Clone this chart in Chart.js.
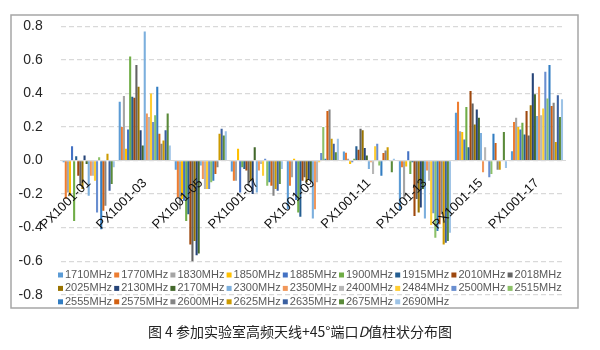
<!DOCTYPE html>
<html>
<head>
<meta charset="utf-8">
<script src="https://cdn.jsdelivr.net/npm/chart.js"></script>
<style>
  body { margin: 0; background: #fff; }
  #wrap { position: relative; width: 600px; height: 350px; }
  #caption {
    position: absolute; left: 0; top: 321px; width: 600px;
    text-align: center; font: 14px "Noto Sans CJK SC", sans-serif; color: #222;
  }
</style>
</head>
<body>
<div id="wrap">
  <canvas id="chart" width="600" height="350"></canvas>
  <div id="caption">图 4 参加实验室高频天线+45°端口<i>D</i>值柱状分布图</div>
</div>
<script>
const categories = ["PX1001-01", "PX1001-03", "PX1001-05", "PX1001-07", "PX1001-09",
  "PX1001-11", "PX1001-13", "PX1001-15", "PX1001-17"];

const yTicks = [-0.8, -0.6, -0.4, -0.2, 0, 0.2, 0.4, 0.6, 0.8];

// one array per frequency, values for each device in categories order
const d1710 = [-0.01, 0.35, -0.055, -0.065, -0.29, 0.054, -0.30, 0.285, 0.055];
const d1770 = [-0.23, 0.20, -0.22, -0.12, -0.15, 0.046, -0.04, 0.35, 0.23];
const d1830 = [-0.19, 0.385, -0.29, -0.12, -0.10, 0.01, -0.23, 0.175, 0.255];
const d1850 = [-0.21, 0.07, -0.23, 0.07, 0.01, -0.02, -0.035, 0.17, 0.20];
const d1885 = [0.085, 0.185, -0.24, -0.19, -0.235, -0.01, 0.055, 0.125, 0.185];
const d1900 = [-0.36, 0.62, -0.36, -0.04, -0.31, 0.01, -0.08, 0.32, 0.225];
const d1915 = [0.025, 0.38, -0.32, -0.05, -0.335, 0.085, -0.01, 0.08, 0.155];
const d2010 = [-0.09, 0.375, -0.50, -0.06, -0.12, 0.065, -0.33, 0.415, 0.295];
const d2018 = [-0.15, 0.57, -0.60, -0.15, -0.10, 0.19, -0.23, 0.34, 0.15];
const d2025 = [-0.17, 0.44, -0.48, -0.12, -0.13, 0.18, -0.31, 0.215, 0.33];
const d2130 = [0.03, 0.18, -0.565, -0.20, -0.11, 0.075, -0.28, 0.305, 0.52];
const d2170 = [-0.02, 0.09, -0.555, 0.08, -0.12, 0.03, -0.17, 0.255, 0.395];
const d2300 = [-0.21, 0.77, -0.03, -0.19, -0.345, -0.05, -0.345, 0.165, 0.265];
const d2350 = [-0.09, 0.28, -0.11, -0.06, -0.29, -0.01, -0.06, -0.07, 0.44];
const d2400 = [-0.09, 0.26, -0.17, -0.02, -0.13, -0.08, -0.12, 0.08, 0.27];
const d2484 = [-0.12, 0.40, -0.17, -0.09, -0.01, 0.085, -0.385, 0.0, 0.31];
const d2500 = [-0.31, 0.23, -0.17, 0.01, 0.045, 0.10, -0.315, -0.10, 0.53];
const d2515 = [0.02, 0.27, -0.13, -0.15, 0.20, -0.03, -0.46, -0.08, 0.37];
const d2555 = [-0.41, 0.44, -0.12, -0.13, 0.01, -0.09, -0.42, 0.16, 0.57];
const d2575 = [-0.30, 0.16, -0.08, -0.15, 0.295, 0.045, -0.38, 0.105, 0.325];
const d2600 = [-0.27, 0.10, -0.04, -0.21, 0.305, 0.06, -0.32, -0.055, 0.345];
const d2625 = [0.04, 0.12, 0.16, -0.17, 0.13, 0.08, -0.50, -0.055, 0.11];
const d2635 = [-0.18, 0.18, 0.19, -0.18, 0.10, 0.0, -0.49, 0.0, 0.39];
const d2675 = [-0.14, 0.28, 0.15, -0.14, 0.05, -0.07, -0.48, 0.17, 0.26];
const d2690 = [-0.04, 0.09, 0.175, -0.05, 0.13, 0.01, -0.43, -0.045, 0.365];

const seriesNames = ["1710MHz", "1770MHz", "1830MHz", "1850MHz", "1885MHz", "1900MHz",
  "1915MHz", "2010MHz", "2018MHz", "2025MHz", "2130MHz", "2170MHz", "2300MHz",
  "2350MHz", "2400MHz", "2484MHz", "2500MHz", "2515MHz", "2555MHz", "2575MHz",
  "2600MHz", "2625MHz", "2635MHz", "2675MHz", "2690MHz"];

const seriesData = [d1710, d1770, d1830, d1850, d1885, d1900, d1915, d2010, d2018,
  d2025, d2130, d2170, d2300, d2350, d2400, d2484, d2500, d2515, d2555, d2575,
  d2600, d2625, d2635, d2675, d2690];

const colors = ["#5B9BD5", "#ED7D31", "#A5A5A5", "#FFC000", "#4472C4", "#70AD47",
  "#255E91", "#9E480E", "#636363", "#997300", "#264478", "#43682B", "#7CAFDD",
  "#F1975A", "#B7B7B7", "#FFCD33", "#698ED0", "#8CC168", "#327DC2", "#D26012",
  "#848484", "#CC9A00", "#3A5FA0", "#5A8A39", "#9DC3E6"];

// white page + grey chart frame
const framePlugin = {
  id: "frame",
  beforeDraw(chart) {
    const c = chart.ctx;
    c.save();
    c.fillStyle = "#fff";
    c.fillRect(0, 0, chart.width, chart.height);
    c.strokeStyle = "#A6A6A6";
    c.lineWidth = 1.5;
    c.strokeRect(11, 15, 567, 293);
    c.restore();
  },
};

// excel style legend sitting over the bottom of the plot
const legendPlugin = {
  id: "excelLegend",
  afterDraw(chart) {
    const c = chart.ctx;
    c.save();
    c.font = '11px "Liberation Sans", Arial, sans-serif';
    c.textBaseline = "middle";
    chart.data.datasets.forEach((ds, i) => {
      const x = 58 + (i % 9) * 56.2;
      const y = 275 + Math.floor(i / 9) * 13.4;
      c.fillStyle = ds.backgroundColor;
      c.fillRect(x, y - 2.5, 5, 5);
      c.fillStyle = "#595959";
      c.fillText(ds.label, x + 7, y);
    });
    c.restore();
  },
};

const chart = document.querySelector("#chart").getContext("2d");

new Chart(chart, {
  type: "bar",
  data: {
    labels: categories,
    datasets: seriesNames.map((name, i) => ({
      label: name,
      data: seriesData[i],
      backgroundColor: colors[i],
      borderWidth: 0,
      categoryPercentage: 0.93,
      barPercentage: 1.0,
    })),
  },
  options: {
    responsive: false,
    animation: false,
    layout: {
      padding: { left: 12.7, right: 35, top: 25.7, bottom: 55.3 },
    },
    plugins: {
      legend: { display: false },
      tooltip: { enabled: false },
    },
    scales: {
      x: {
        position: { y: 0 },
        grid: { display: false },
        border: { display: true, color: "#D9D9D9", width: 1, z: 1 },
        ticks: {
          z: 1, // labels over the bars, like excel
          autoSkip: false,
          minRotation: 45,
          maxRotation: 45,
          padding: 7,
          color: "#111",
          font: { family: '"Liberation Sans", Arial, sans-serif', size: 13 },
        },
      },
      y: {
        min: -0.8,
        max: 0.8,
        afterFit: (scale) => {
          scale.width = 48;
        },
        afterBuildTicks: (scale) => {
          scale.ticks = yTicks.map((v) => ({ value: v }));
        },
        ticks: {
          padding: 18,
          color: "#262626",
          font: { family: '"Liberation Sans", Arial, sans-serif', size: 14 },
          callback: (v) => (Math.abs(v) < 1e-9 ? "0.0" : v.toFixed(1)),
        },
        grid: { color: "#D9D9D9", lineWidth: 1.3, drawTicks: false },
        border: { display: false, dash: [5, 3] },
      },
    },
  },
  plugins: [framePlugin, legendPlugin],
});
</script>
</body>
</html>
